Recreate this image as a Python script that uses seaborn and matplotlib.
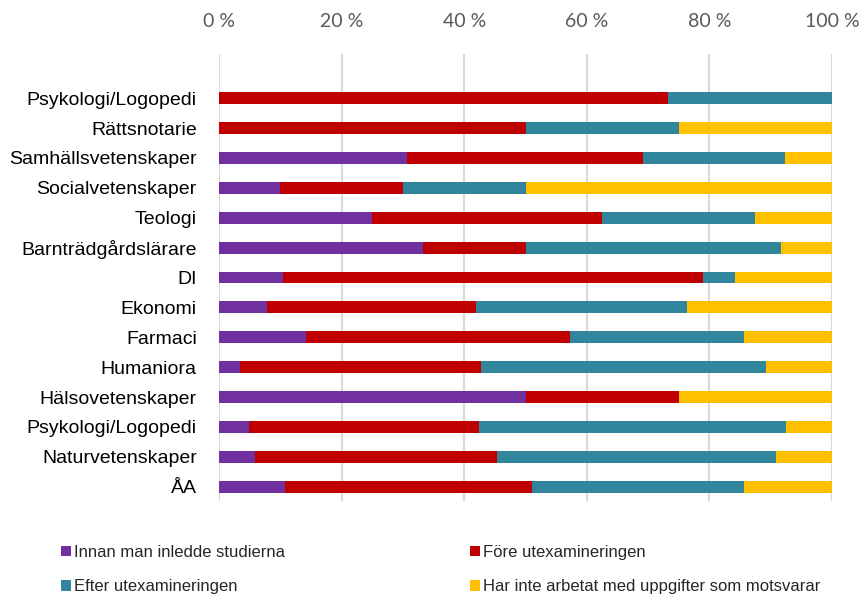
import numpy as np
import pandas as pd
import matplotlib
matplotlib.use("Agg")
import matplotlib.pyplot as plt
import seaborn as sns
from matplotlib.patches import Patch
from matplotlib.ticker import FuncFormatter

# Data (percent of respondents per group)
categories = ["Psykologi/Logopedi", "Rättsnotarie", "Samhällsvetenskaper",
              "Socialvetenskaper", "Teologi", "Barnträdgårdslärare", "DI",
              "Ekonomi", "Farmaci", "Humaniora", "Hälsovetenskaper",
              "Psykologi/Logopedi", "Naturvetenskaper", "ÅA"]
innan = [0.0, 0.0, 30.7, 10.0, 25.0, 33.3, 10.4, 7.8, 14.2, 3.4, 50.0, 4.9, 5.9, 10.7]
fore = [73.3, 50.0, 38.5, 20.0, 37.5, 16.7, 68.6, 34.2, 43.0, 39.4, 25.0, 37.5, 39.5, 40.3]
efter = [26.7, 25.0, 23.2, 20.0, 25.0, 41.7, 5.2, 34.3, 28.5, 46.5, 0.0, 50.1, 45.5, 34.6]
har_inte = [0.0, 25.0, 7.6, 50.0, 12.5, 8.3, 15.8, 23.7, 14.3, 10.7, 25.0, 7.5, 9.1, 14.4]

series_names = ["Innan man inledde studierna", "Före utexamineringen",
                "Efter utexamineringen", "Har inte arbetat med uppgifter som motsvarar"]
colors = ["#7030A0", "#C00000", "#31859C", "#FFC000"]

# row key is needed because "Psykologi/Logopedi" appears twice
df = pd.DataFrame({"row": [f"r{i:02d}" for i in range(len(categories))],
                   "innan": innan, "fore": fore, "efter": efter, "har_inte": har_inte})
cols = ["innan", "fore", "efter", "har_inte"]
cum = df[cols].cumsum(axis=1)

sns.set_style("white")
plt.rcParams['font.family'] = ['Liberation Sans', 'DejaVu Sans']

fig = plt.figure(figsize=(8.64, 5.96), dpi=100)
ax = fig.add_axes([219 / 864, 1 - 501 / 596, (832 - 219) / 864, (501 - 54) / 596])

# stacked bars: draw cumulative totals from the right-most segment down
for i in range(len(cols) - 1, -1, -1):
    sns.barplot(x=cum[cols[i]], y=df["row"], orient="h", color=colors[i],
                width=0.4, ax=ax, saturation=1, linewidth=0, zorder=3)

ax.set_xlim(0, 100)
ax.set_ylim(13.48, -1.48)
ax.set_yticks(range(len(categories)))
ax.set_yticklabels(categories)
ax.set_xticks(np.arange(0, 101, 20))
ax.xaxis.set_major_formatter(FuncFormatter(lambda v, p: f"{int(v)} %"))
ax.xaxis.tick_top()
ax.tick_params(axis="x", length=0, pad=17, labelsize=14, labelcolor="#595959")
for lab in ax.get_xticklabels():
    lab.set_family(["Lato", "DejaVu Sans"])
ax.tick_params(axis="y", length=0, pad=16, labelsize=14, labelcolor="black")
ax.grid(axis="x", color="#D9D9D9", linewidth=1.5, zorder=0)
ax.grid(axis="y", visible=False)
ax.set_xlabel("")
ax.set_ylabel("")
for s in ax.spines.values():
    s.set_visible(False)

# legend order so that rows read: Innan | Före, Efter | Har inte
order = [0, 2, 1, 3]
handles = [Patch(facecolor=colors[k], edgecolor="none") for k in order]
labels = [series_names[k] for k in order]
fig.legend(handles, labels, ncol=2, loc="upper left",
           bbox_to_anchor=(46 / 864, 1 - 530 / 596), frameon=False,
           fontsize=12, handlelength=0.6, handleheight=0.6,
           handletextpad=0.15, columnspacing=11.15, labelspacing=1.15)

fig.savefig("out.png", dpi=100)
